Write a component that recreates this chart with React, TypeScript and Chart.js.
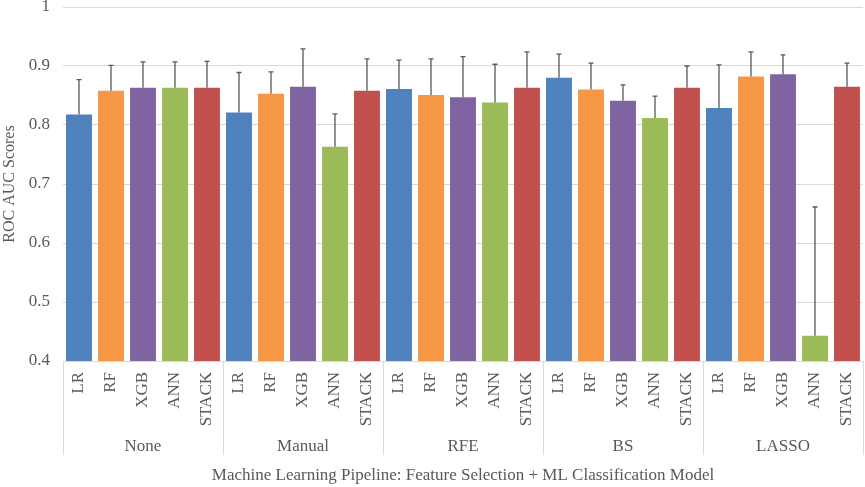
import React, { useEffect, useRef } from "react";
import { Chart, registerables } from "chart.js";

Chart.register(...registerables);

const groups = ["None", "Manual", "RFE", "BS", "LASSO"];
const models = ["LR", "RF", "XGB", "ANN", "STACK"];
const modelColors = ["#4f81bd", "#f79646", "#8064a2", "#9bbb59", "#c0504d"];

const scoresNone = [0.818, 0.858, 0.863, 0.863, 0.863];
const scoresManual = [0.821, 0.853, 0.865, 0.763, 0.858];
const scoresRFE = [0.861, 0.851, 0.847, 0.838, 0.863];
const scoresBS = [0.88, 0.86, 0.841, 0.812, 0.863];
const scoresLASSO = [0.829, 0.882, 0.886, 0.443, 0.865];

const errNone = [0.059, 0.043, 0.044, 0.044, 0.045];
const errManual = [0.068, 0.037, 0.064, 0.056, 0.054];
const errRFE = [0.049, 0.061, 0.069, 0.065, 0.061];
const errBS = [0.04, 0.045, 0.027, 0.037, 0.037];
const errLASSO = [0.073, 0.042, 0.033, 0.218, 0.04];

const yTicks = [0.4, 0.5, 0.6, 0.7, 0.8, 0.9, 1];

const yTitle = "ROC AUC Scores";
const xTitle = "Machine Learning Pipeline: Feature Selection + ML Classification Model";

const FONT = "'Liberation Serif', 'Times New Roman', serif";
const TEXT = "#595959";

export default function App() {
  const ref = useRef<HTMLCanvasElement | null>(null);

  useEffect(() => {
    if (!ref.current) return;
    const allScores = [scoresNone, scoresManual, scoresRFE, scoresBS, scoresLASSO].flat();
    const allErr = [errNone, errManual, errRFE, errBS, errLASSO].flat();
    const labels = groups.flatMap(() => models);
    const colors = groups.flatMap(() => modelColors);

    const extras = {
      id: "extras",
      afterDatasetsDraw(chart: any) {
        const ctx = chart.ctx;
        const meta = chart.getDatasetMeta(0);
        const y = chart.scales.y;
        ctx.save();
        ctx.strokeStyle = "#595959";
        ctx.lineWidth = 1.3;
        meta.data.forEach((bar: any, i: number) => {
          const top = y.getPixelForValue(allScores[i] + allErr[i]);
          const base = y.getPixelForValue(allScores[i]);
          ctx.beginPath();
          ctx.moveTo(bar.x, base);
          ctx.lineTo(bar.x, top);
          ctx.moveTo(bar.x - 2.5, top);
          ctx.lineTo(bar.x + 2.5, top);
          ctx.stroke();
        });
        ctx.restore();
      },
      afterDraw(chart: any) {
        const ctx = chart.ctx;
        const area = chart.chartArea;
        const gw = (area.right - area.left) / groups.length;
        ctx.save();
        ctx.strokeStyle = "#d9d9d9";
        ctx.lineWidth = 1;
        for (let g = 0; g <= groups.length; g++) {
          const x = Math.round(area.left + g * gw) + 0.5;
          ctx.beginPath();
          ctx.moveTo(x, area.bottom);
          ctx.lineTo(x, area.bottom + 94);
          ctx.stroke();
        }
        ctx.fillStyle = TEXT;
        ctx.font = `17px ${FONT}`;
        ctx.textAlign = "center";
        ctx.textBaseline = "middle";
        groups.forEach((g, i) => {
          ctx.fillText(g, area.left + (i + 0.5) * gw, area.bottom + 86);
        });
        ctx.fillText(xTitle, (area.left + area.right) / 2, area.bottom + 115);
        ctx.restore();
      },
    };

    const chart = new Chart(ref.current, {
      type: "bar",
      data: {
        labels,
        datasets: [
          {
            data: allScores,
            backgroundColor: colors,
            borderWidth: 0,
            barPercentage: 0.81,
            categoryPercentage: 1,
          },
        ],
      },
      options: {
        animation: false,
        responsive: true,
        maintainAspectRatio: false,
        layout: { padding: { top: 7, right: 2, left: 0, bottom: 0 } },
        plugins: { legend: { display: false }, tooltip: { enabled: false } },
        scales: {
          x: {
            grid: { display: false, drawTicks: false },
            border: { display: false },
            ticks: {
              minRotation: 90,
              maxRotation: 90,
              autoSkip: false,
              padding: 11,
              color: TEXT,
              font: { family: FONT, size: 17 },
            },
            afterFit: (s: any) => {
              s.height = 126;
              s.paddingLeft = 0;
              s.paddingRight = 0;
            },
          },
          y: {
            min: 0.4,
            max: 1,
            afterBuildTicks: (s: any) => {
              s.ticks = yTicks.map((v) => ({ value: v }));
            },
            grid: { color: "#d9d9d9", lineWidth: 1, drawTicks: false },
            border: { display: false },
            ticks: {
              padding: 13,
              color: TEXT,
              font: { family: FONT, size: 17 },
              callback: (v: any) => String(Math.round(Number(v) * 10) / 10),
            },
            title: {
              display: true,
              text: yTitle,
              color: TEXT,
              padding: { top: 0, bottom: 0 },
              font: { family: FONT, size: 16 },
            },
            afterFit: (s: any) => {
              s.width = 63;
              s.paddingTop = 0;
              s.paddingBottom = 0;
            },
          },
        },
      } as any,
      plugins: [extras],
    });
    return () => chart.destroy();
  }, []);

  return (
    <div style={{ position: "fixed", left: 0, top: 0, width: 865, height: 487, background: "#fff" }}>
      <canvas ref={ref} />
    </div>
  );
}
